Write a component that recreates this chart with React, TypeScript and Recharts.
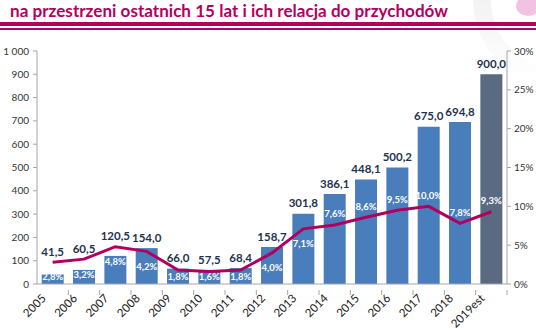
import { ComposedChart, Bar, Line, XAxis, YAxis, Cell, LabelList } from 'recharts'

const years = ['2005', '2006', '2007', '2008', '2009', '2010', '2011', '2012', '2013', '2014', '2015', '2016', '2017', '2018', '2019est']
const amounts = [41.5, 60.5, 120.5, 154.0, 66.0, 57.5, 68.4, 158.7, 301.8, 386.1, 448.1, 500.2, 675.0, 694.8, 900.0]
const shares = [2.8, 3.2, 4.8, 4.2, 1.8, 1.6, 1.8, 4.0, 7.1, 7.6, 8.6, 9.5, 10.0, 7.8, 9.3]
const leftTicks = [0, 100, 200, 300, 400, 500, 600, 700, 800, 900, 1000]
const rightTicks = [0, 5, 10, 15, 20, 25, 30]

const LEFT_MAX = 1000
const RIGHT_MAX = 30
const MAGENTA = '#b4005e'
const FONT = 'Lato, "Open Sans", sans-serif'

const data = years.map((year, i) => ({ year, amount: amounts[i], share: shares[i] }))

const comma = (v: number, d = 1) => v.toFixed(d).replace('.', ',')

// y of the share line for a bar, derived from the bar's own geometry
function lineYFor(p: any) {
  const base = p.y + p.height
  const pxPerUnit = p.height / p.value
  return base - (shares[p.index] / RIGHT_MAX) * LEFT_MAX * pxPerUnit
}

function ValueLabel(p: any) {
  const lineY = lineYFor(p)
  const cy = Math.min(p.y, lineY) - 11
  return (
    <text x={p.x + p.width / 2} y={cy} textAnchor="middle" dominantBaseline="central"
      fill="#1f3350" fontSize={11.5} fontWeight={700} fontFamily={FONT}>
      {comma(p.value)}
    </text>
  )
}

function ShareLabel(p: any) {
  const base = p.y + p.height
  const lineY = lineYFor(p)
  const cy = p.index < 9 ? Math.min(lineY + 15, base - 8) : lineY - 11
  return (
    <text x={p.x + p.width / 2} y={cy} textAnchor="middle" dominantBaseline="central"
      fill="#ffffff" fontSize={9.5} fontWeight={700} fontFamily={FONT}>
      {comma(shares[p.index]) + '%'}
    </text>
  )
}

function YearTick(p: any) {
  const { x, y, payload } = p
  const half = payload.offset ?? 15.6
  const axisY = y - 2
  return (
    <g>
      <line x1={x + half} y1={axisY} x2={x + half} y2={axisY + 5} stroke="#a6a6a6" />
      <text x={x - 6} y={axisY + 9} textAnchor="end" transform={`rotate(-45 ${x - 6} ${axisY + 9})`}
        fill="#1a1a1a" fontSize={11.5} fontFamily={FONT}>
        {payload.value}
      </text>
    </g>
  )
}

export default function App() {
  return (
    <div style={{ position: 'absolute', left: 0, top: 0, width: 536, height: 332, background: '#fff', overflow: 'hidden' }}>
      <svg width={536} height={332} style={{ position: 'absolute', left: 0, top: 0 }}>
        <defs>
          <linearGradient id="fade" x1="0" y1="0" x2="0" y2="1">
            <stop offset="0%" stopColor="#e6e6e6" />
            <stop offset="100%" stopColor="#ffffff" />
          </linearGradient>
        </defs>
        <circle cx={560} cy={0} r={78} fill="none" stroke="url(#fade)" strokeWidth={18} />
        <ellipse cx={528} cy={6} rx={12} ry={10} fill="#f2c2e4" />
        <text x={10} y={17} fill={MAGENTA} fontSize={17} fontWeight={700} fontFamily={FONT}
          textLength={438} lengthAdjust="spacingAndGlyphs">
          na przestrzeni ostatnich 15 lat i ich relacja do przychodów
        </text>
        <rect x={0} y={22} width={536} height={4} fill={MAGENTA} />
        <rect x={0} y={28} width={536} height={2} fill={MAGENTA} />
      </svg>
      <div style={{ position: 'absolute', left: 0, top: 0 }}>
        <ComposedChart width={536} height={332} data={data} barCategoryGap="15%"
          margin={{ top: 51, right: 0, bottom: 0, left: 0 }}>
          <XAxis dataKey="year" interval={0} height={48} tickLine={false} stroke="#a6a6a6"
            tick={<YearTick />} />
          <YAxis yAxisId="left" domain={[0, LEFT_MAX]} ticks={leftTicks} interval={0} width={37}
            stroke="#a6a6a6" tickSize={4} tickMargin={4}
            tick={{ fill: '#333', fontSize: 10, fontFamily: FONT }}
            tickFormatter={(v: number) => (v >= 1000 ? '1 000' : String(v))} />
          <YAxis yAxisId="right" orientation="right" domain={[0, RIGHT_MAX]} ticks={rightTicks} interval={0}
            width={29} stroke="#a6a6a6" tickSize={4} tickMargin={3}
            tick={{ fill: '#333', fontSize: 10, fontFamily: FONT }}
            tickFormatter={(v: number) => `${v}%`} />
          <Bar yAxisId="left" dataKey="amount" isAnimationActive={false}>
            {data.map((d, i) => (
              <Cell key={d.year} fill={i === data.length - 1 ? '#5a6a80' : '#4a7dbb'} />
            ))}
            <LabelList dataKey="amount" content={(p: any) => <ValueLabel {...p} />} />
            <LabelList dataKey="amount" content={(p: any) => <ShareLabel {...p} />} />
          </Bar>
          <Line yAxisId="right" dataKey="share" stroke="#b0005f" strokeWidth={3} dot={false}
            activeDot={false} isAnimationActive={false} />
        </ComposedChart>
      </div>
    </div>
  )
}
